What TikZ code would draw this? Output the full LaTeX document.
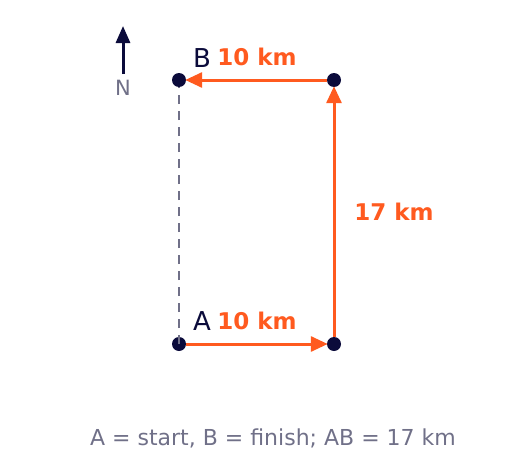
\documentclass[tikz,border=0pt]{standalone}
\usepackage{fontspec}
\setmainfont{DejaVu Sans}
\usetikzlibrary{arrows.meta}
\definecolor{navy}{HTML}{0B0B3B}
\definecolor{orng}{HTML}{FF5A1F}
\definecolor{gry}{HTML}{707088}
\tikzset{
  pt/.style={circle,fill=navy,inner sep=0pt,minimum size=14pt},
  leg/.style={draw=orng,line width=3pt,-{Triangle[length=17pt,width=15pt]},shorten >=-1pt},
  lbl/.style={text=orng,font=\bfseries\fontsize{23}{26}\selectfont},
  ptname/.style={text=navy,font=\fontsize{26}{30}\selectfont},
}
\begin{document}
\begin{tikzpicture}[x=1pt,y=-1pt]
\useasboundingbox (0,0) rectangle (520,458);
\node[pt] (A) at (179,344) {};
\node[pt] (C) at (334,344) {};
\node[pt] (D) at (334,80) {};
\node[pt] (B) at (179,80) {};
\draw[gry,line width=2.5pt,dash pattern=on 9pt off 7pt] (A.center) -- (B.south);
\draw[leg] (A) -- (C);
\draw[leg] (C) -- (D);
\draw[leg] (D) -- (B);
\node[ptname] (Bl) at (202,58) {B};
\node[ptname] (Al) at (202,321) {A};
\node[lbl] (l1) at (257,57) {10 km};
\node[lbl] (l2) at (257,321) {10 km};
\node[lbl] (l3) at (394,212) {17 km};
\coordinate (Nb) at (123,74);
\coordinate (Nt) at (123,26);
\draw[navy,line width=3pt,-{Triangle[length=17pt,width=14pt]}] (Nb) -- (Nt);
\node[text=gry,font=\fontsize{21}{24}\selectfont] (N) at (123,88) {N};
\node[text=gry,font=\fontsize{22}{26}\selectfont] (cap) at (273,438) {A = start, B = finish; AB = 17 km};
\end{tikzpicture}
\end{document}
